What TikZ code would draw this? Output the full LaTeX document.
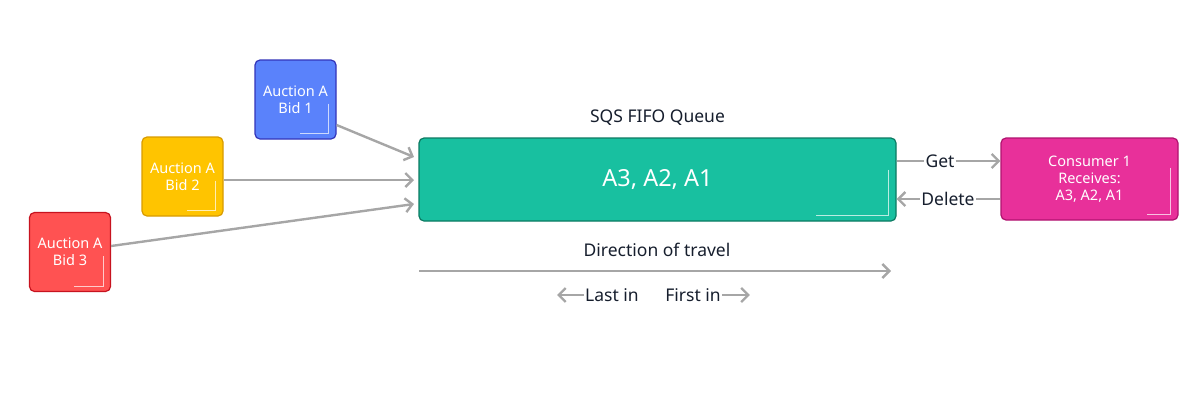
\documentclass[tikz,border=0pt]{standalone}
\usepackage{fontspec}
\setmainfont{Noto Sans}
\usetikzlibrary{arrows.meta,calc,positioning}
\definecolor{BidBlue}{HTML}{5A82FB}
\definecolor{BidBlueEdge}{HTML}{3334B9}
\definecolor{BidYellow}{HTML}{FFC400}
\definecolor{BidYellowEdge}{HTML}{D89B00}
\definecolor{BidRed}{HTML}{FF5252}
\definecolor{BidRedEdge}{HTML}{C7131F}
\definecolor{QueueGreen}{HTML}{18C0A0}
\definecolor{QueueEdge}{HTML}{0C7A62}
\definecolor{ConsPink}{HTML}{E8309A}
\definecolor{ConsEdge}{HTML}{B0126F}
\definecolor{Wire}{HTML}{A6A6A6}
\definecolor{Ink}{HTML}{161E2D}
\tikzset{
  box/.style={rounded corners=5pt,line width=1.2pt,inner sep=0pt,align=center,
    text=white,font=\fontsize{14.5}{17}\selectfont},
  bidbox/.style={box,minimum width=81pt,minimum height=79pt},
  flow/.style={draw=Wire,line width=2.4pt,-{Straight Barb[length=7pt,width=14pt,line width=2.4pt]}},
  plain/.style={draw=Wire,line width=2.4pt},
  tag/.style={text=Ink,font=\fontsize{17.5}{21}\selectfont,inner sep=1pt},
  corner/.style={draw=white,opacity=0.7,line width=0.8pt}
}
\begin{document}
\begin{tikzpicture}[x=1pt,y=-1pt]
  \useasboundingbox (0,0) rectangle (1200,400);
  % producers
  \node[bidbox,fill=BidBlue,draw=BidBlueEdge] (bid1) at (295.5,99.5) {Auction A\\Bid 1};
  \node[bidbox,fill=BidYellow,draw=BidYellowEdge] (bid2) at (182.5,176.5) {Auction A\\Bid 2};
  \node[bidbox,fill=BidRed,draw=BidRedEdge] (bid3) at (70,252) {Auction A\\Bid 3};
  % queue and consumer
  \node[box,fill=QueueGreen,draw=QueueEdge,minimum width=477pt,minimum height=83pt,
    font=\fontsize{23.5}{28}\selectfont] (queue) at (657.5,179.5) {A3, A2, A1};
  \node[tag,above=11pt of queue] (qtitle) {SQS FIFO Queue};
  \node[box,fill=ConsPink,draw=ConsEdge,minimum width=177pt,minimum height=82pt] (cons)
    at (1089.5,179) {Consumer 1\\Receives:\\A3, A2, A1};
  % inner corner marks
  \foreach \n/\dx/\dy in {bid1/29/30,bid2/29/30,bid3/29/30,queue/73/46,cons/24/47}{
    \draw[corner] ([xshift=-8pt,yshift=\dy pt+6pt]\n.south east)
      -- ([xshift=-8pt,yshift=6pt]\n.south east) -- ([xshift=-8pt-\dx pt,yshift=6pt]\n.south east);
  }
  % producer arrows
  \coordinate (in1) at (414,157);
  \coordinate (in2) at (414,180);
  \coordinate (in3) at (414,204);
  \draw[flow] (bid1.east |- 0,125) -- (in1);
  \draw[flow] (bid2.east |- 0,180) -- (in2);
  \draw[flow] (bid3.east |- 0,246) -- (in3);
  % get / delete
  \node[tag] (get) at (940,161) {Get};
  \node[tag] (del) at (948,199) {Delete};
  \draw[plain] (queue.east |- get) -- (get.west);
  \draw[flow] (get.east) -- (cons.west |- get);
  \draw[plain] (cons.west |- del) -- (del.east);
  \draw[flow] (del.west) -- (queue.east |- del);
  % direction of travel
  \node[tag] (dir) at (657,250) {Direction of travel};
  \coordinate (dstart) at (419,271);
  \coordinate (dend) at (891,271);
  \draw[flow] (dstart) -- (dend);
  \node[tag] (last) at (612,295) {Last in};
  \node[tag] (first) at (693,295) {First in};
  \draw[flow] (last.west) -- +(-27,0);
  \draw[flow] (first.east) -- +(28,0);
\end{tikzpicture}
\end{document}
